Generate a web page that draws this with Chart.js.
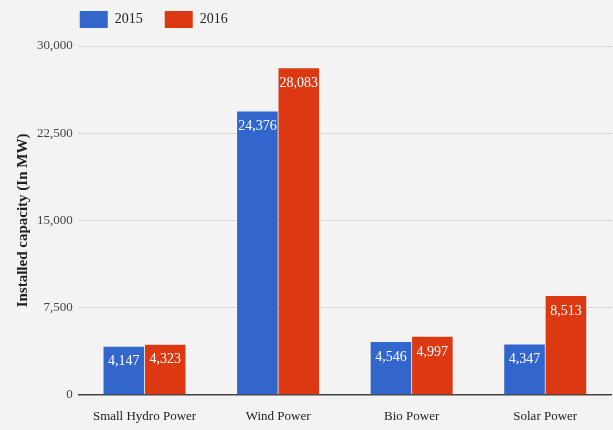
<!DOCTYPE html>
<html>
<head>
<meta charset="utf-8">
<script src="https://cdn.jsdelivr.net/npm/chart.js@4"></script>
<style>
  html, body { margin: 0; padding: 0; background: #f3f3f3; }
  #wrap { width: 613px; height: 430px; position: relative; }
</style>
</head>
<body>
<div id="wrap"><canvas id="myChart" width="613" height="430"></canvas></div>
<script>
var categories = ['Small Hydro Power', 'Wind Power', 'Bio Power', 'Solar Power'];
var values2015 = [4147, 24376, 4546, 4347];
var values2016 = [4323, 28083, 4997, 8513];
var yTicks = [0, 7500, 15000, 22500, 30000];

function fmt(v) {
  return String(v).replace(/\B(?=(\d{3})+(?!\d))/g, ',');
}

// etiquetas blancas dentro de las barras
var barLabels = {
  id: 'barLabels',
  afterDatasetsDraw: function(chart) {
    var ctx = chart.ctx;
    ctx.save();
    ctx.fillStyle = '#ffffff';
    ctx.font = '14px "Liberation Serif"';
    ctx.textAlign = 'center';
    ctx.textBaseline = 'top';
    chart.data.datasets.forEach(function(ds, i) {
      chart.getDatasetMeta(i).data.forEach(function(bar, j) {
        ctx.fillText(fmt(ds.data[j]), bar.x, bar.y + 8);
      });
    });
    ctx.restore();
  }
};

// ajustar el tamaño y la posición de la leyenda
var legendGap = {
  id: 'legendGap',
  beforeInit: function(chart) {
    var origFit = chart.legend.fit;
    chart.legend.fit = function() {
      origFit.call(this);
      this.height -= 3;
    };
  },
  afterLayout: function(chart) {
    chart.legend.left -= 20;
    chart.legend.right -= 20;
    chart.legend.top -= 11;
    chart.legend.bottom -= 11;
  }
};

var ctx = document.getElementById('myChart').getContext('2d');
var myChart = new Chart(ctx, {
  type: 'bar',
  data: {
    labels: categories,
    datasets: [
      { label: '2015', data: values2015, backgroundColor: '#3366cc', borderWidth: 0 },
      { label: '2016', data: values2016, backgroundColor: '#dc3912', borderWidth: 0 }
    ]
  },
  options: {
    responsive: false,
    animation: false,
    layout: { padding: { left: 14, right: 1, top: 0, bottom: 0 } },
    datasets: { bar: { categoryPercentage: 0.62, barPercentage: 0.98 } },
    scales: {
      x: {
        grid: { display: false },
        border: { display: false },
        ticks: { color: '#222', font: { family: 'Liberation Serif', size: 13, lineHeight: 1 }, padding: 7 }
      },
      y: {
        min: 0,
        max: 30000,
        afterBuildTicks: function(axis) {
          axis.ticks = yTicks.map(function(v) { return { value: v }; });
        },
        grid: {
          color: function(c) { return c.tick.value === 0 ? '#444' : '#d8d8d8'; },
          lineWidth: function(c) { return c.tick.value === 0 ? 1.5 : 1; },
          drawTicks: false
        },
        border: { display: false },
        ticks: {
          color: '#444',
          font: { family: 'Liberation Serif', size: 13 },
          padding: 5,
          callback: function(v) { return fmt(v); }
        },
        title: {
          display: true,
          text: 'Installed capacity (In MW)',
          color: '#222',
          font: { family: 'Liberation Serif', size: 15, weight: 'bold' },
          padding: { top: 0, bottom: 0 }
        }
      }
    },
    plugins: {
      legend: {
        position: 'top',
        align: 'start',
        fullSize: false,
        labels: {
          boxWidth: 28,
          boxHeight: 17,
          color: '#222',
          font: { family: 'Liberation Serif', size: 14 },
          padding: 22
        }
      },
      tooltip: { enabled: false }
    }
  },
  plugins: [barLabels, legendGap]
});
</script>
</body>
</html>
